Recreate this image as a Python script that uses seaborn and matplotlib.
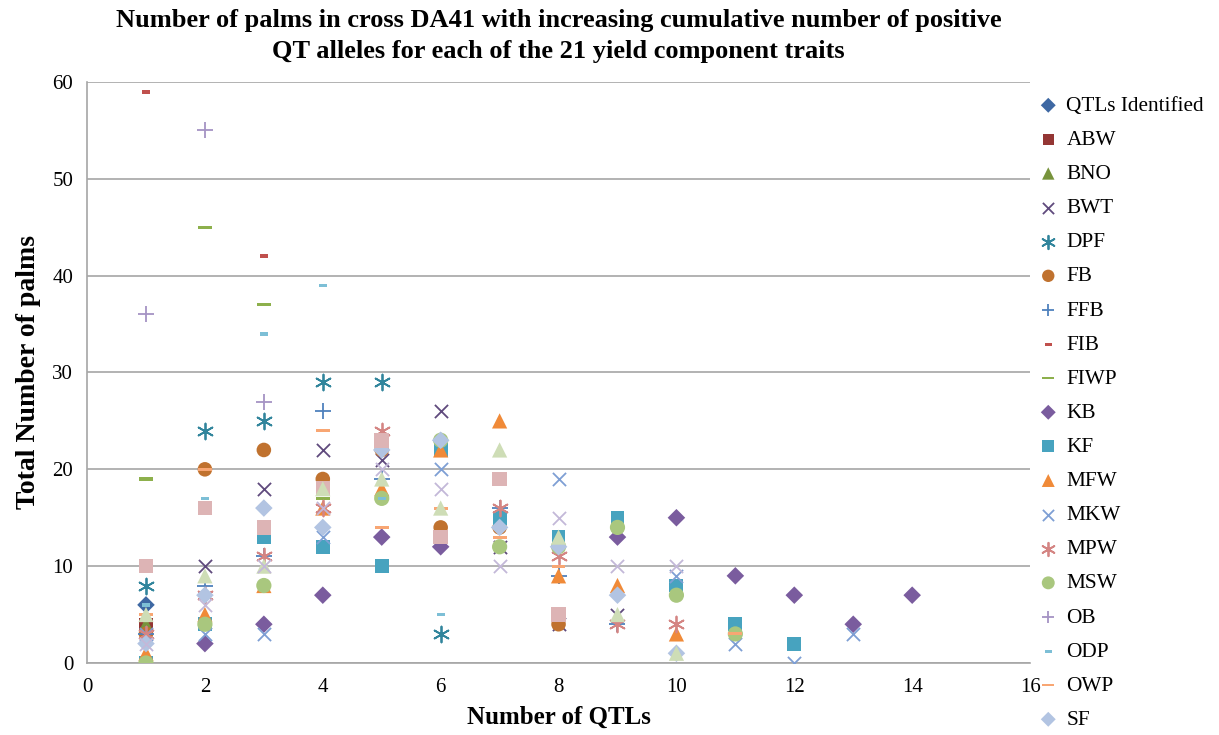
import matplotlib
matplotlib.use("Agg")
import matplotlib.pyplot as plt
from matplotlib.path import Path
import seaborn as sns
import pandas as pd
import numpy as np

# ---------------- data ----------------
traits = ["QTLs Identified", "ABW", "BNO", "BWT", "DPF", "FB", "FFB", "FIB", "FIWP",
          "KB", "KF", "MFW", "MKW", "MPW", "MSW", "OB", "ODP", "OWP", "SF",
          "T20", "T21", "T22"]

qtls_x = [1];                                   qtls_y = [6]
abw_x = [1];                                    abw_y = [4]
bno_x = [1];                                    bno_y = [4]
bwt_x = [2, 3, 4, 5, 6, 7, 8, 9];               bwt_y = [10, 18, 22, 21, 26, 12, 4, 5]
dpf_x = [1, 2, 3, 4, 5, 6];                     dpf_y = [8, 24, 25, 29, 29, 3]
fb_x = [1, 2, 3, 4, 5, 6, 7, 8];                fb_y = [3, 20, 22, 19, 22, 14, 14, 4]
ffb_x = [1, 2, 3, 4, 5, 7, 8, 9];               ffb_y = [3, 8, 11, 26, 19, 16, 9, 4]
fib_x = [1, 3];                                 fib_y = [59, 42]
fiwp_x = [1, 2, 3, 4];                          fiwp_y = [19, 45, 37, 17]
kb_x = [2, 3, 4, 5, 6, 9, 10, 11, 12, 13, 14];  kb_y = [2, 4, 7, 13, 12, 13, 15, 9, 7, 4, 7]
kf_x = [1, 2, 3, 4, 5, 6, 7, 8, 9, 10, 11, 12]; kf_y = [0, 4, 13, 12, 10, 22, 15, 13, 15, 8, 4, 2]
mfw_x = [1, 2, 3, 4, 5, 6, 7, 8, 9, 10];        mfw_y = [1, 5, 8, 16, 18, 22, 25, 9, 8, 3]
mkw_x = [1, 2, 3, 4, 6, 8, 10, 11, 12, 13];     mkw_y = [3, 3, 3, 13, 20, 19, 9, 2, 0, 3]
mpw_x = [1, 2, 3, 4, 5, 7, 8, 9, 10];           mpw_y = [3, 7, 11, 16, 24, 16, 11, 4, 4]
msw_x = [1, 2, 3, 5, 6, 7, 8, 9, 10, 11];       msw_y = [0, 4, 8, 17, 23, 12, 12, 14, 7, 3]
ob_x = [1, 2, 3];                               ob_y = [36, 55, 27]
odp_x = [1, 2, 3, 4, 5, 6];                     odp_y = [6, 17, 34, 39, 17, 5]
owp_x = [1, 2, 3, 4, 5, 6, 7, 8, 11];           owp_y = [5, 20, 16, 24, 14, 16, 13, 10, 3]
sf_x = [1, 2, 3, 4, 5, 6, 7, 8, 9, 10];         sf_y = [2, 7, 16, 14, 22, 23, 14, 12, 7, 1]
t20_x = [1, 2, 3, 4, 5, 6, 7, 8];               t20_y = [10, 16, 14, 18, 23, 13, 19, 5]
t21_x = [1, 2, 3, 4, 5, 6, 7, 8, 9, 10];        t21_y = [5, 9, 10, 18, 19, 16, 22, 13, 5, 1]
t22_x = [1, 2, 3, 4, 5, 6, 7, 8, 9, 10];        t22_y = [2, 6, 10, 16, 20, 18, 10, 15, 10, 10]

xs = [qtls_x, abw_x, bno_x, bwt_x, dpf_x, fb_x, ffb_x, fib_x, fiwp_x, kb_x, kf_x,
      mfw_x, mkw_x, mpw_x, msw_x, ob_x, odp_x, owp_x, sf_x, t20_x, t21_x, t22_x]
ys = [qtls_y, abw_y, bno_y, bwt_y, dpf_y, fb_y, ffb_y, fib_y, fiwp_y, kb_y, kf_y,
      mfw_y, mkw_y, mpw_y, msw_y, ob_y, odp_y, owp_y, sf_y, t20_y, t21_y, t22_y]

x_ticks = [0, 2, 4, 6, 8, 10, 12, 14, 16]
y_ticks = [0, 10, 20, 30, 40, 50, 60]

rows = []
for name, xv, yv in zip(traits, xs, ys):
    for a, b in zip(xv, yv):
        rows.append((name, a, b))
df = pd.DataFrame(rows, columns=["trait", "qtls", "palms"])

# ---------------- styles ----------------
def rect(w, h):
    return Path([(-w, -h), (w, -h), (w, h), (-w, h), (-w, -h)],
                [Path.MOVETO, Path.LINETO, Path.LINETO, Path.LINETO, Path.CLOSEPOLY])

short_dash = rect(1.0, 0.45)
long_dash = rect(1.0, 0.22)
star = (6, 2, 0)

styles = {
    "QTLs Identified": ("D", "#3E68A3", 80, True),
    "ABW": ("s", "#943634", 90, True),
    "BNO": ("^", "#77933C", 110, True),
    "BWT": ("x", "#5F4A7D", 90, False),
    "DPF": (star, "#31859C", 130, False),
    "FB": ("o", "#C0722F", 110, True),
    "FFB": ("+", "#4F81BD", 120, False),
    "FIB": (short_dash, "#C0504D", 34, True),
    "FIWP": (long_dash, "#8DB04C", 100, True),
    "KB": ("D", "#7A5C9E", 80, True),
    "KF": ("s", "#47A3BF", 100, True),
    "MFW": ("^", "#F08A38", 120, True),
    "MKW": ("x", "#7E9FD4", 90, False),
    "MPW": (star, "#D48583", 130, False),
    "MSW": ("o", "#A9C77E", 120, True),
    "OB": ("+", "#A593C4", 120, False),
    "ODP": (short_dash, "#7DBFD6", 34, True),
    "OWP": (long_dash, "#F8A673", 100, True),
    "SF": ("D", "#B2C4E2", 80, True),
    "T20": ("s", "#DDB4B5", 110, True),
    "T21": ("^", "#CEDDB6", 120, True),
    "T22": ("x", "#C3B8D8", 90, False),
}

sns.set_style("white")
plt.rcParams["font.family"] = ["Liberation Serif", "DejaVu Serif"]
plt.rcParams["text.color"] = "black"
plt.rcParams["axes.labelcolor"] = "black"

fig = plt.figure(figsize=(12.19, 7.35), dpi=100)
ax = fig.add_axes([0.0714, 0.098, 0.7736, 0.7904])

for name in traits:
    m, c, s, filled = styles[name]
    sub = df[df["trait"] == name]
    if filled:
        sns.scatterplot(data=sub, x="qtls", y="palms", marker=m, color=c, s=s,
                        edgecolor="none", linewidth=0, ax=ax, label=name,
                        legend=False, zorder=3)
    else:
        sns.scatterplot(data=sub, x="qtls", y="palms", marker=m, color=c, s=s,
                        linewidth=1.3, ax=ax, label=name, legend=False, zorder=3)

ax.set_xlim(0, 16)
ax.set_ylim(0, 60)
ax.set_xticks(x_ticks)
ax.set_yticks(y_ticks)
ax.yaxis.grid(True, color="#A6A6A6", linewidth=1.2)
ax.xaxis.grid(False)
ax.set_axisbelow(True)
for side in ["top", "right"]:
    ax.spines[side].set_visible(False)
for side in ["left", "bottom"]:
    ax.spines[side].set_color("#A6A6A6")
    ax.spines[side].set_linewidth(1.2)
ax.tick_params(axis="both", which="both", direction="out", length=5, width=1.2,
               color="#A6A6A6", labelsize=15, labelcolor="black", pad=5)
ax.tick_params(axis="x", length=6)

ax.set_xlabel("Number of QTLs", fontsize=18, fontweight="bold", labelpad=6)
ax.set_ylabel("Total Number of palms", fontsize=20, fontweight="bold", labelpad=8)
ax.set_title("Number of palms in cross DA41 with increasing cumulative number of positive\n"
             "QT alleles for each of the 21 yield component traits",
             fontsize=19, fontweight="bold", pad=17, linespacing=1.45)

handles, labels = ax.get_legend_handles_labels()
leg = fig.legend(handles[:19], labels[:19], loc="upper left",
                 bbox_to_anchor=(0.8425, 0.881), frameon=False, fontsize=15.3,
                 labelspacing=0.67, handletextpad=0.25, handlelength=1.2,
                 borderaxespad=0, markerscale=0.85)

fig.savefig("out.png", dpi=100)
